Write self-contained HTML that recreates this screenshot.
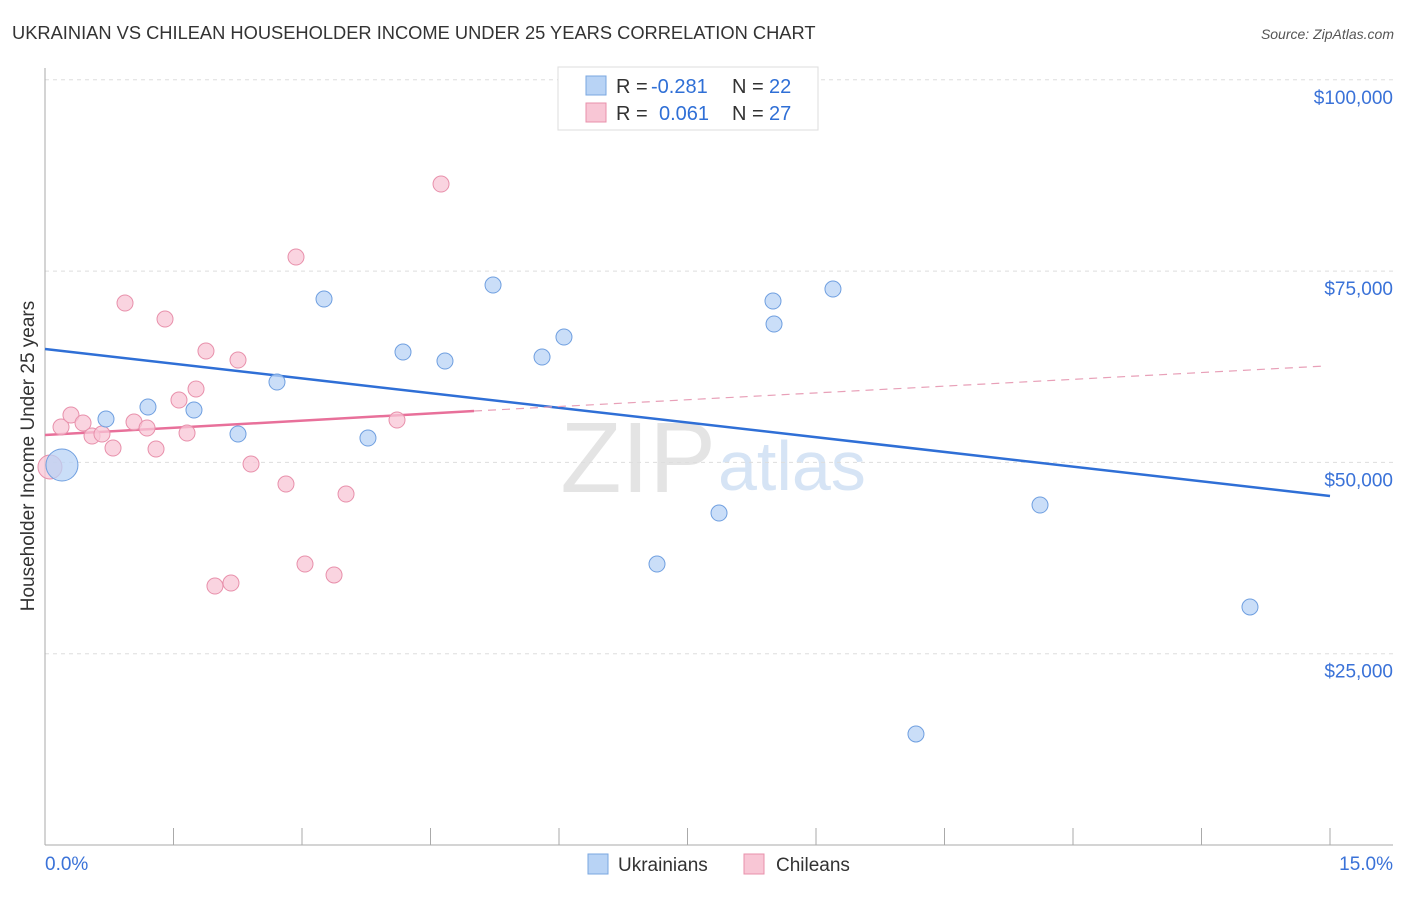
<!DOCTYPE html>
<html><head><meta charset="utf-8"><style>
body{margin:0;background:#fff;font-family:"Liberation Sans",sans-serif;}
svg text{font-family:"Liberation Sans",sans-serif;}
</style></head><body>
<svg id="chart" width="1406" height="892">
<text x="12" y="39" font-size="18.3" fill="#333">UKRAINIAN VS CHILEAN HOUSEHOLDER INCOME UNDER 25 YEARS CORRELATION CHART</text>
<text x="1394" y="39" font-size="14" fill="#555" font-style="italic" text-anchor="end">Source: ZipAtlas.com</text>
<text x="716" y="492" font-size="100" fill="#e4e4e4" text-anchor="end" font-family="Liberation Serif">ZIP</text>
<text x="718" y="490" font-size="70" fill="#d6e4f5">atlas</text>
<text transform="translate(34,456) rotate(-90)" font-size="19" fill="#333" text-anchor="middle">Householder Income Under 25 years</text>
<g id="grid"></g><g id="axes"></g><g id="lines"></g><g id="pts"></g>
<g>
<rect x="558" y="67" width="260" height="63" fill="#fff" stroke="#ddd"/>
<rect x="586" y="76" width="20" height="19" fill="#b8d3f5" stroke="#7aa7e0"/>
<text x="616" y="93" font-size="20" fill="#333">R =</text>
<text x="651" y="93" font-size="20" fill="#2f6fd6">-0.281</text>
<text x="732" y="93" font-size="20" fill="#333">N =</text>
<text x="769" y="93" font-size="20" fill="#2f6fd6">22</text>
<rect x="586" y="103" width="20" height="19" fill="#f8c6d5" stroke="#e890ab"/>
<text x="616" y="120" font-size="20" fill="#333">R =</text>
<text x="659" y="120" font-size="20" fill="#2f6fd6">0.061</text>
<text x="732" y="120" font-size="20" fill="#333">N =</text>
<text x="769" y="120" font-size="20" fill="#2f6fd6">27</text>
</g>
<g>
<rect x="588" y="854" width="20" height="20" fill="#b8d3f5" stroke="#7aa7e0"/>
<text x="618" y="871" font-size="19" fill="#333">Ukrainians</text>
<rect x="744" y="854" width="20" height="20" fill="#f8c6d5" stroke="#e890ab"/>
<text x="776" y="871" font-size="19" fill="#333">Chileans</text>
</g>
</svg>
<script>
const blueX=[0.198,0.712,1.202,1.739,2.253,2.708,3.257,3.770,4.179,4.669,5.230,5.802,6.058,6.946,7.144,7.868,8.498,8.510,9.198,10.167,11.615,14.066];
const blueY=[49658,55670,57238,56846,53710,60505,71351,53187,64425,63249,73181,63772,66385,94874,36721,43386,71090,68084,72658,14505,44431,31102];
const blueBig=[1,0,0,0,0,0,0,0,0,0,0,0,0,0,0,0,0,0,0,0,0,0];
const pinkX=[0.058,0.187,0.303,0.444,0.549,0.665,0.794,0.934,1.039,1.191,1.296,1.401,1.564,1.658,1.763,1.879,1.984,2.171,2.253,2.405,2.813,2.930,3.035,3.374,3.514,4.109,4.623];
const pinkY=[49397,54624,56192,55147,53448,53709,51880,70829,55278,54494,51749,68738,58153,53840,59590,64556,33846,34238,63380,49789,47175,76840,36721,35284,45869,55539,86379];
const pinkBig=[1,0,0,0,0,0,0,0,0,0,0,0,0,0,0,0,0,0,0,0,0,0,0,0,0,0,0];
const yTicks=[25000,50000,75000,100000];
const yTickLabels=["$25,000","$50,000","$75,000","$100,000"];
const xTicks=[0,1.5,3,4.5,6,7.5,9,10.5,12,13.5,15];
const blueTrend=[64817,45607];
const pinkTrend=[53579,56715,62595];
const pinkTrendX=[0,5.008,14.94];
const NS="http://www.w3.org/2000/svg";
const sx=v=>45+v/15*1285;
const sy=v=>845-v/25000*191.3;
function mk(tag,attrs,parent){const e=document.createElementNS(NS,tag);for(const k in attrs)e.setAttribute(k,attrs[k]);document.getElementById(parent).appendChild(e);return e;}
yTicks.forEach((t,i)=>{
 const l=mk('line',{x1:45,x2:1393,y1:sy(t),y2:sy(t),stroke:'#ddd','stroke-dasharray':'4,4'},'grid');
 
 
 const tx=mk('text',{x:1393,y:sy(t)+24,'font-size':19,fill:'#3a72d8','text-anchor':'end'},'grid');
 tx.textContent=yTickLabels[i];
 
 
});
const ax=mk('line',{x1:45,x2:1393,y1:845,y2:845,stroke:'#aaa'},'axes');


const ay=mk('line',{x1:45,x2:45,y1:68,y2:845,stroke:'#aaa'},'axes');


xTicks.forEach(t=>{
 const l=mk('line',{x1:sx(t),x2:sx(t),y1:828,y2:845,stroke:'#aaa'},'axes');
 
 
});
const xl0=mk('text',{x:45,y:870,'font-size':19,fill:'#3a72d8'},'axes');xl0.textContent=xTicks[0].toFixed(1)+'%';


const xl1=mk('text',{x:1393,y:870,'font-size':19,fill:'#3a72d8','text-anchor':'end'},'axes');xl1.textContent=xTicks[xTicks.length-1].toFixed(1)+'%';


const bt=mk('line',{x1:sx(0),y1:sy(blueTrend[0]),x2:sx(15),y2:sy(blueTrend[1]),stroke:'#2f6fd6','stroke-width':2.5},'lines');


const pt=mk('line',{x1:sx(pinkTrendX[0]),y1:sy(pinkTrend[0]),x2:sx(pinkTrendX[1]),y2:sy(pinkTrend[1]),stroke:'#e8709a','stroke-width':2.5},'lines');


const pd=mk('line',{x1:sx(pinkTrendX[1]),y1:sy(pinkTrend[1]),x2:sx(pinkTrendX[2]),y2:sy(pinkTrend[2]),stroke:'#e8a0b8','stroke-width':1.2,'stroke-dasharray':'8,6'},'lines');


pinkX.forEach((x,i)=>{
 const c=mk('circle',{cx:sx(x),cy:sy(pinkY[i]),r:pinkBig[i]?12:8,fill:'#f8c6d5','fill-opacity':0.75,stroke:'#e890ab','stroke-width':1},'pts');
 
 
});
blueX.forEach((x,i)=>{
 const c=mk('circle',{cx:sx(x),cy:sy(blueY[i]),r:blueBig[i]?16:8,fill:'#b8d3f5','fill-opacity':0.75,stroke:'#6f9fe0','stroke-width':1},'pts');
 
 
});
</script>
</body></html>
